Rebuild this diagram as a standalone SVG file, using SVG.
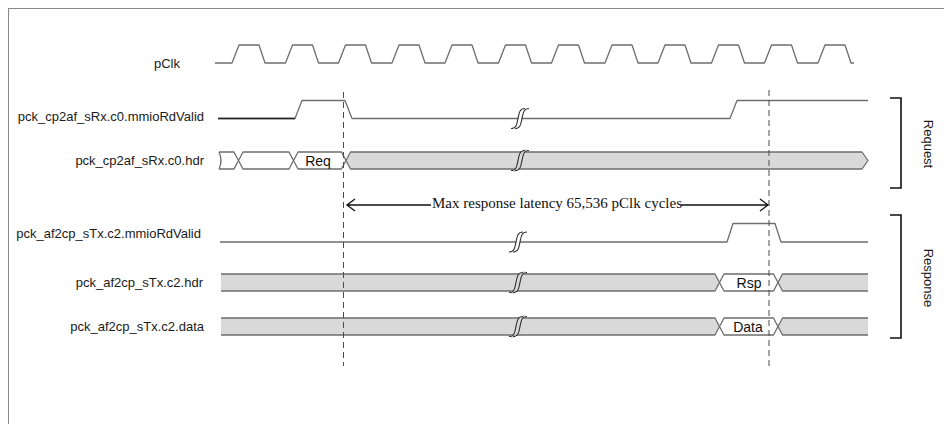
<svg xmlns="http://www.w3.org/2000/svg" xmlns:xlink="http://www.w3.org/1999/xlink" width="944" height="424" viewBox="0 0 944 424">
<style>
.lbl{font-family:"Liberation Sans",Arial,sans-serif;font-size:13px;fill:#1a1a1a}
.sig{fill:none;stroke:#6e6e6e;stroke-width:1.3;stroke-linejoin:round}
.bus{fill:#d9d9d9;stroke:#6e6e6e;stroke-width:1.3;stroke-linejoin:round}
.wbus{fill:#ffffff;stroke:#6e6e6e;stroke-width:1.3;stroke-linejoin:round}
.dash{stroke:#4a4a4a;stroke-width:1;stroke-dasharray:6,4;fill:none}
.brk{fill:none;stroke:#333;stroke-width:1.1}
.brkw{fill:none;stroke:#fff;stroke-width:3.2}
.brkg{fill:none;stroke:#d9d9d9;stroke-width:3.2}
.brc{fill:none;stroke:#111;stroke-width:1.6}
.arr{fill:none;stroke:#111;stroke-width:1.3}
.cap{font-family:"Liberation Serif","Times New Roman",serif;font-size:15px;fill:#111}
.in{font-family:"Liberation Sans",Arial,sans-serif;font-size:14px;fill:#111;text-anchor:middle}
</style>
<defs>
<g id="brkW">
<path class="brkw" d="M-6,10 C0,10 0,4 1,0 S2,-10 8,-10"/>
<path class="brk" d="M-8,10 C-2,10 -2,4 -1,0 S0,-10 6,-10"/>
<path class="brk" d="M-4,10 C2,10 2,4 3,0 S4,-10 10,-10"/>
</g>
<g id="brkG">
<path class="brkg" d="M-6,10 C0,10 0,4 1,0 S2,-10 8,-10"/>
<path class="brk" d="M-8,10 C-2,10 -2,4 -1,0 S0,-10 6,-10"/>
<path class="brk" d="M-4,10 C2,10 2,4 3,0 S4,-10 10,-10"/>
</g>
</defs>
<rect x="8.5" y="8.5" width="940" height="420" fill="#fff" stroke="#8a8a8a" stroke-width="1"/>

<g id="pClk">
<text class="lbl" x="180" y="68" text-anchor="end">pClk</text>
<path class="sig" d="M215,63 L232,63 L239,45 L259,45 L265,63 L285.5,63 L292.5,45 L312.5,45 L318.5,63 L338.5,63 L345.5,45 L365.5,45 L371.5,63 L392,63 L399,45 L419,45 L425,63 L445,63 L452,45 L472,45 L478,63 L498.5,63 L505.5,45 L525.5,45 L531.5,63 L551.5,63 L558.5,45 L578.5,45 L584.5,63 L605,63 L612,45 L632,45 L638,63 L658,63 L665,45 L685,45 L691,63 L711.5,63 L718.5,45 L738.5,45 L744.5,63 L764.5,63 L771.5,45 L791.5,45 L797.5,63 L818,63 L825,45 L845,45 L851,63 L854,63"/>
</g>

<g id="rx_valid">
<text class="lbl" x="204" y="121" text-anchor="end">pck_cp2af_sRx.c0.mmioRdValid</text>
<path class="sig" d="M218,118.5 L295,118.5 L302,100.5 L345,100.5 L352,118.5 L730,118.5 L737,100.5 L868,100.5"/>
<path d="M218,118.5 L295,118.5" stroke="#222" stroke-width="1.3"/>
<use xlink:href="#brkW" x="519" y="118.5"/>
</g>

<g id="rx_hdr">
<text class="lbl" x="204" y="165" text-anchor="end">pck_cp2af_sRx.c0.hdr</text>
<path class="sig" d="M219,152 L234,152 L238.5,160.5 L234,169 L219,169 M219,152 Q223,160.5 219,169"/>
<path class="wbus" d="M243,152 L289,152 L293.5,160.5 L289,169 L243,169 L238.5,160.5 Z"/>
<path class="wbus" d="M298,152 L341.5,152 L346,160.5 L341.5,169 L298,169 L293.5,160.5 Z"/>
<text class="in" x="318" y="166">Req</text>
<path class="bus" d="M350.5,152 L862,152 L868,160.5 L862,169 L350.5,169 L346,160.5 Z"/>
<use xlink:href="#brkG" x="519" y="160.5"/>
</g>

<g id="tx_valid">
<text class="lbl" x="201" y="238" text-anchor="end">pck_af2cp_sTx.c2.mmioRdValid</text>
<path class="sig" d="M220,242 L727,242 L733,223.5 L775,223.5 L781,242 L868,242"/>
<use xlink:href="#brkW" x="517" y="242"/>
</g>

<g id="tx_hdr">
<text class="lbl" x="203" y="287" text-anchor="end">pck_af2cp_sTx.c2.hdr</text>
<path fill="#d9d9d9" d="M221,274 L715,274 L719.5,282.5 L715,291 L221,291 Z"/>
<path class="sig" d="M221,274 L715,274 L719.5,282.5 L715,291 L221,291"/>
<path class="wbus" d="M724,274 L773.5,274 L778,282.5 L773.5,291 L724,291 L719.5,282.5 Z"/>
<text class="in" x="749" y="288">Rsp</text>
<path fill="#d9d9d9" d="M782.5,274 L868,274 L868,291 L782.5,291 L778,282.5 Z"/>
<path class="sig" d="M868,274 L782.5,274 L778,282.5 L782.5,291 L868,291"/>
<use xlink:href="#brkG" x="517" y="282.5"/>
</g>

<g id="tx_data">
<text class="lbl" x="204" y="331" text-anchor="end">pck_af2cp_sTx.c2.data</text>
<path fill="#d9d9d9" d="M221,318 L715,318 L719.5,326.5 L715,335 L221,335 Z"/>
<path class="sig" d="M221,318 L715,318 L719.5,326.5 L715,335 L221,335"/>
<path class="wbus" d="M724,318 L773.5,318 L778,326.5 L773.5,335 L724,335 L719.5,326.5 Z"/>
<text class="in" x="748" y="332">Data</text>
<path fill="#d9d9d9" d="M782.5,318 L868,318 L868,335 L782.5,335 L778,326.5 Z"/>
<path class="sig" d="M868,318 L782.5,318 L778,326.5 L782.5,335 L868,335"/>
<use xlink:href="#brkG" x="517" y="326.5"/>
</g>

<g id="connectors">
<path class="dash" d="M343.5,92 V366"/>
<path class="dash" d="M769,90 V366"/>
<path class="arr" d="M347,205 H431 M681,205 H768 M355,199 L347,205 L355,211 M760,199 L768,205 L760,211"/>
</g>

<g id="latency">
<text class="cap" x="432" y="208" textLength="250">Max response latency 65,536 pClk cycles</text>
</g>

<g id="request">
<path class="brc" d="M890,98 H901 V188 H890"/>
<text class="lbl" text-anchor="middle" dominant-baseline="central" transform="translate(928,144) rotate(90)">Request</text>
</g>

<g id="response">
<path class="brc" d="M890,215 H901 V338 H890"/>
<text class="lbl" text-anchor="middle" dominant-baseline="central" transform="translate(928,278) rotate(90)">Response</text>
</g>
</svg>
